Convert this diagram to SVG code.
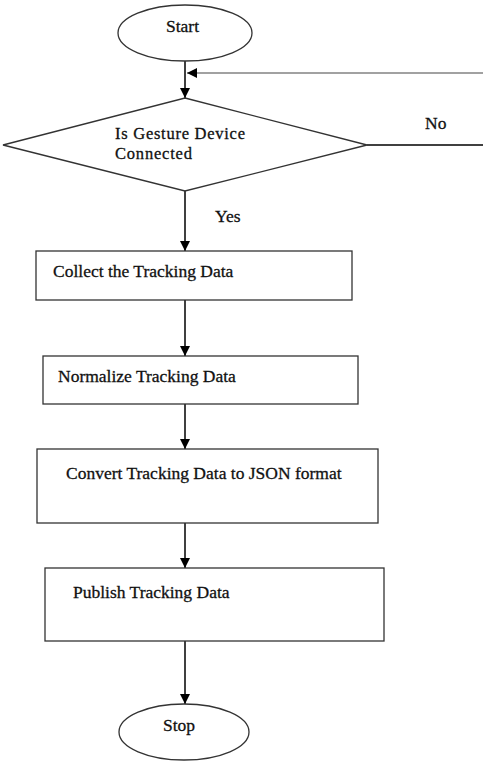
<svg xmlns="http://www.w3.org/2000/svg" width="483" height="762" viewBox="0 0 483 762">
<style>
.shape{fill:#fff;stroke:#333;stroke-width:1.3}
.line{fill:none;stroke:#000;stroke-width:1.5}
.thin{fill:none;stroke:#444;stroke-width:1.2}
text{font-family:"Liberation Serif","Times New Roman",serif;font-size:17.5px;fill:#111;stroke:#111;stroke-width:0.3}
.dtext{font-size:16.5px}
</style>
<defs>
<marker id="ah" viewBox="0 0 10 10" refX="10" refY="5" markerWidth="10" markerHeight="10" markerUnits="userSpaceOnUse" orient="auto">
<path d="M0,0 L10,5 L0,10 Z" fill="#000"/>
</marker>
</defs>
<rect width="483" height="762" fill="#fff"/>
<g id="connectors">
<line class="line" x1="185" y1="61" x2="185" y2="98" marker-end="url(#ah)"/>
<line class="thin" x1="483" y1="73" x2="187" y2="73" marker-end="url(#ah)"/>
<line class="line" x1="367" y1="145" x2="483" y2="145"/>
<line class="line" x1="185" y1="191" x2="185" y2="251" marker-end="url(#ah)"/>
<line class="line" x1="185" y1="300" x2="185" y2="356" marker-end="url(#ah)"/>
<line class="line" x1="185" y1="404" x2="185" y2="449" marker-end="url(#ah)"/>
<line class="line" x1="185" y1="523" x2="185" y2="568" marker-end="url(#ah)"/>
<line class="line" x1="185" y1="641" x2="185" y2="704" marker-end="url(#ah)"/>
<text x="425" y="129">No</text>
<text x="215" y="222">Yes</text>
</g>
<g id="start">
<ellipse class="shape" cx="185" cy="33" rx="67" ry="28"/>
<text x="166" y="32">Start</text>
</g>
<g id="decision">
<polygon class="shape" points="185,98 367,145 185,191 3,145"/>
<text class="dtext" x="115" y="139" textLength="130" lengthAdjust="spacing">Is Gesture Device</text>
<text class="dtext" x="115" y="159" textLength="77" lengthAdjust="spacing">Connected</text>
</g>
<g id="collect">
<rect class="shape" x="36" y="251" width="316" height="49"/>
<text x="53" y="277">Collect the Tracking Data</text>
</g>
<g id="normalize">
<rect class="shape" x="43" y="356" width="315" height="48"/>
<text x="58" y="382">Normalize Tracking Data</text>
</g>
<g id="convert">
<rect class="shape" x="37" y="449" width="341" height="74"/>
<text x="66" y="479">Convert Tracking Data to JSON format</text>
</g>
<g id="publish">
<rect class="shape" x="45" y="568" width="339" height="73"/>
<text x="73" y="598">Publish Tracking Data</text>
</g>
<g id="stop">
<ellipse class="shape" cx="184" cy="732" rx="65" ry="28"/>
<text x="163" y="731">Stop</text>
</g>
</svg>
